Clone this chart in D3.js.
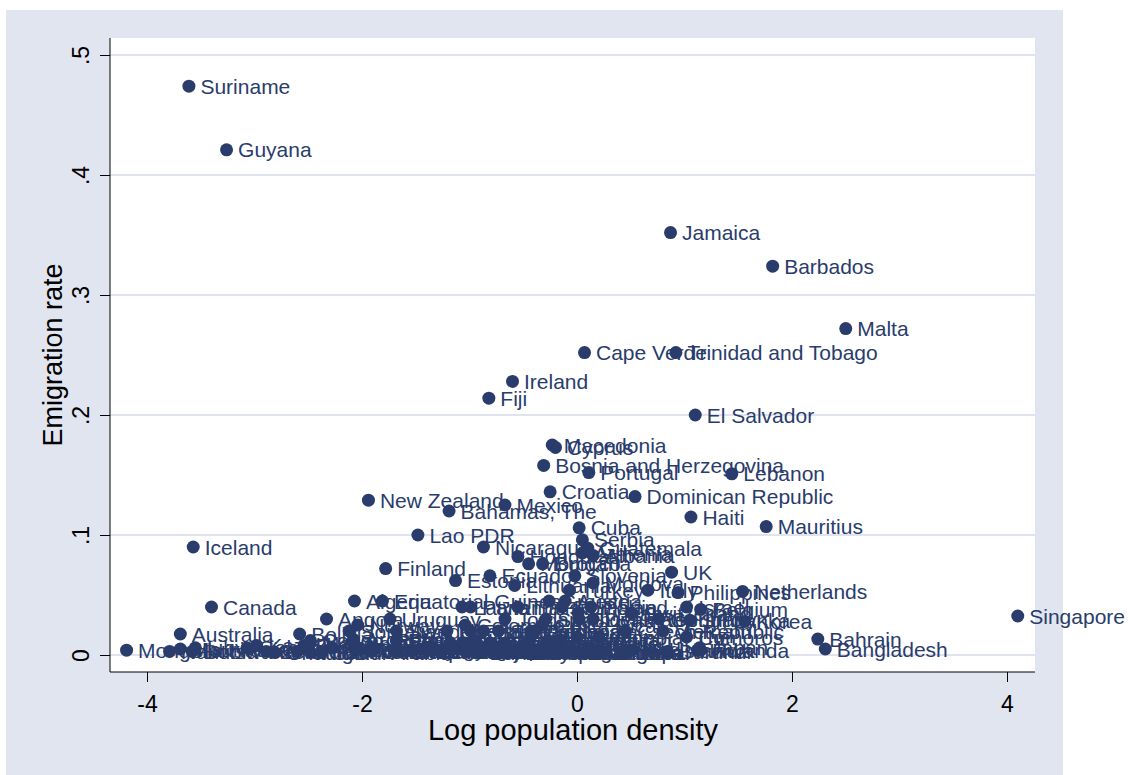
<!DOCTYPE html>
<html><head><meta charset="utf-8">
<script src="https://cdn.jsdelivr.net/npm/d3@7"></script>
<style>body{margin:0;background:#fff}svg{display:block}</style>
</head><body><svg id="c" width="1131" height="775"></svg>
<script>
const countries = ["Afghanistan","Albania","Algeria","Angola","Argentina","Armenia","Australia","Austria","Azerbaijan","Bahamas, The","Bahrain","Bangladesh","Barbados","Belarus","Belgium","Benin","Bolivia","Bosnia and Herzegovina","Botswana","Brazil","Bulgaria","Burkina Faso","Burundi","Cambodia","Cameroon","Canada","Cape Verde","Central African Republic","Chad","Chile","China","Colombia","Comoros","Congo, Rep.","Costa Rica","Cote d'Ivoire","Croatia","Cuba","Cyprus","Czech Republic","Denmark","Dominican Republic","Ecuador","Egypt","El Salvador","Equatorial Guinea","Eritrea","Estonia","Ethiopia","Fiji","Finland","France","Gabon","Gambia, The","Georgia","Germany","Ghana","Greece","Guatemala","Guinea","Guinea-Bissau","Guyana","Haiti","Honduras","Hungary","Iceland","India","Indonesia","Iran","Iraq","Ireland","Israel","Italy","Jamaica","Japan","Jordan","Kazakhstan","Kenya","Korea","Kuwait","Kyrgyz Republic","Lao PDR","Latvia","Lebanon","Lesotho","Liberia","Libya","Lithuania","Macedonia","Madagascar","Malawi","Malaysia","Mali","Malta","Mauritania","Mauritius","Mexico","Moldova","Mongolia","Morocco","Mozambique","Myanmar","Namibia","Nepal","Netherlands","New Zealand","Nicaragua","Niger","Nigeria","Norway","Oman","Pakistan","Panama","Papua New Guinea","Paraguay","Peru","Philippines","Poland","Portugal","Romania","Russian Federation","Rwanda","Saudi Arabia","Senegal","Serbia","Sierra Leone","Singapore","Slovak Republic","Slovenia","Solomon Islands","Somalia","South Africa","Spain","Sri Lanka","Sudan","Suriname","Swaziland","Sweden","Switzerland","Syria","Tajikistan","Tanzania","Thailand","Togo","Trinidad and Tobago","Tunisia","Turkey","Turkmenistan","Uganda","UK","Ukraine","United States","Uruguay","Uzbekistan","Venezuela","Vietnam","Yemen","Zambia","Zimbabwe"];
const logDensity = [-1.18,0.15,-2.07,-2.33,-2.08,0.05,-3.69,-0.11,-0.15,-1.19,2.24,2.31,1.82,-0.81,1.15,-0.55,-2.58,-0.31,-3.58,-1.68,-0.32,-0.92,0.84,-0.43,-1.18,-3.40,0.07,-2.89,-2.81,-1.68,0.23,-1.04,1.02,-2.48,-0.32,-0.73,-0.25,0.02,-0.20,0.45,0.15,0.54,-0.81,-0.46,1.10,-1.81,-0.99,-1.13,-0.54,-0.82,-1.78,0.00,-3.07,0.20,-0.39,0.76,-0.26,-0.26,0.10,-1.15,-0.87,-3.26,1.06,-0.55,0.01,-3.57,1.12,0.02,-0.94,-0.67,-0.60,1.02,0.66,0.87,1.14,-0.67,-2.98,-0.71,1.56,0.11,-1.46,-1.48,-1.07,1.44,-0.59,-1.21,-3.55,-0.58,-0.23,-1.35,0.06,-0.43,-2.48,2.50,-3.69,1.76,-0.67,0.15,-4.19,-0.45,-1.55,-0.43,-3.79,0.43,1.54,-1.94,-0.87,-2.48,0.26,-2.04,-2.60,0.51,-0.99,-2.28,-2.08,-1.68,0.94,0.13,0.11,-0.14,-2.54,1.15,-2.38,-0.73,0.05,-0.46,4.10,0.02,-0.02,-1.91,-2.12,-1.07,-0.29,1.05,-2.04,-3.61,-0.55,-1.68,0.51,-0.18,-0.90,-1.04,0.11,-0.21,0.92,-0.55,-0.07,-2.38,-0.03,0.88,-0.27,-1.28,-1.74,-0.62,-1.38,0.80,-1.04,-2.04,-1.18];
const emigRate = [0.010,0.083,0.045,0.030,0.013,0.085,0.0175,0.045,0.012,0.120,0.0133,0.005,0.324,0.010,0.038,0.003,0.0175,0.158,0.003,0.003,0.076,0.002,0.003,0.020,0.006,0.040,0.252,0.003,0.002,0.012,0.002,0.025,0.015,0.012,0.025,0.004,0.136,0.106,0.173,0.020,0.030,0.132,0.066,0.006,0.200,0.045,0.020,0.062,0.002,0.214,0.072,0.015,0.006,0.015,0.020,0.030,0.010,0.045,0.089,0.005,0.020,0.421,0.115,0.082,0.035,0.090,0.004,0.002,0.012,0.010,0.228,0.040,0.054,0.352,0.006,0.030,0.008,0.006,0.028,0.006,0.005,0.100,0.040,0.151,0.002,0.020,0.006,0.058,0.175,0.005,0.002,0.015,0.010,0.272,0.005,0.107,0.125,0.060,0.004,0.076,0.004,0.002,0.003,0.002,0.053,0.129,0.090,0.002,0.002,0.025,0.003,0.004,0.040,0.006,0.010,0.012,0.052,0.040,0.152,0.040,0.008,0.004,0.002,0.020,0.096,0.010,0.0325,0.030,0.066,0.003,0.020,0.010,0.030,0.029,0.005,0.474,0.003,0.020,0.035,0.012,0.003,0.003,0.005,0.006,0.252,0.040,0.054,0.003,0.003,0.069,0.012,0.003,0.030,0.004,0.006,0.020,0.010,0.005,0.010];
const xTicks = [-4,-2,0,2,4];
const yTicks = [0,0.1,0.2,0.3,0.4,0.5];
const yTickLabels = ["0",".1",".2",".3",".4",".5"];
const xTitle = "Log population density";
const yTitle = "Emigration rate";

const navy = "#293c6c";
const svg = d3.select("#c");
const font = "'Liberation Sans', Arial, Helvetica, sans-serif";

// background
svg.append("rect").attr("x",6).attr("y",10).attr("width",1057).attr("height",765).attr("fill","#e1e5f0");
svg.append("rect").attr("x",110).attr("y",38).attr("width",925).attr("height",634).attr("fill","#fff");

const x = d3.scaleLinear().domain([-4,4]).range([147,1007]);
const y = d3.scaleLinear().domain([0,0.5]).range([655,55]);

// gridlines
svg.append("g").selectAll("line").data(yTicks).join("line")
  .attr("x1",110).attr("x2",1035).attr("y1",d=>y(d)).attr("y2",d=>y(d))
  .attr("stroke","#dfe3ee").attr("stroke-width",2);

// axes
const xa = svg.append("g").attr("transform","translate(0,672)")
  .call(d3.axisBottom(x).tickValues(xTicks).tickSize(10).tickPadding(14).tickFormat(d=>String(d)));
xa.select(".domain").remove();
xa.selectAll("text").attr("font-size",23).attr("font-family",font).attr("fill","#000");
xa.selectAll("line").attr("stroke","#000");

const ya = svg.append("g").attr("transform","translate(110,0)")
  .call(d3.axisLeft(y).tickValues(yTicks).tickSize(10).tickFormat((d,i)=>yTickLabels[i]));
ya.select(".domain").remove();
ya.selectAll("line").attr("stroke","#000");
ya.selectAll("text").attr("x",null).attr("dy",null)
  .attr("text-anchor","middle").attr("font-size",23).attr("font-family",font).attr("fill","#000")
  .attr("transform","translate(-21,0) rotate(-90)");

svg.append("line").attr("x1",110).attr("x2",110).attr("y1",38).attr("y2",672).attr("stroke","#000");
svg.append("line").attr("x1",110).attr("x2",1035).attr("y1",672).attr("y2",672).attr("stroke","#000");

// titles
svg.append("text").attr("x",573).attr("y",740).attr("text-anchor","middle")
  .attr("font-size",29).attr("font-family",font).attr("fill","#000").text(xTitle);
svg.append("text").attr("transform","translate(62,355) rotate(-90)").attr("text-anchor","middle")
  .attr("font-size",27).attr("font-family",font).attr("fill","#000").text(yTitle);

// points
const data = countries.map((c,i)=>({name:c, xv:logDensity[i], yv:emigRate[i]}));
const g = svg.append("g").selectAll("g").data(data).join("g");
g.append("circle").attr("cx",d=>x(d.xv)).attr("cy",d=>y(d.yv)).attr("r",6.5).attr("fill",navy);
g.append("text").attr("x",d=>x(d.xv)+11.5).attr("y",d=>y(d.yv)).attr("dy","0.36em")
  .attr("font-size",21).attr("font-family",font).attr("fill",navy).text(d=>d.name);
</script>
</body></html>
